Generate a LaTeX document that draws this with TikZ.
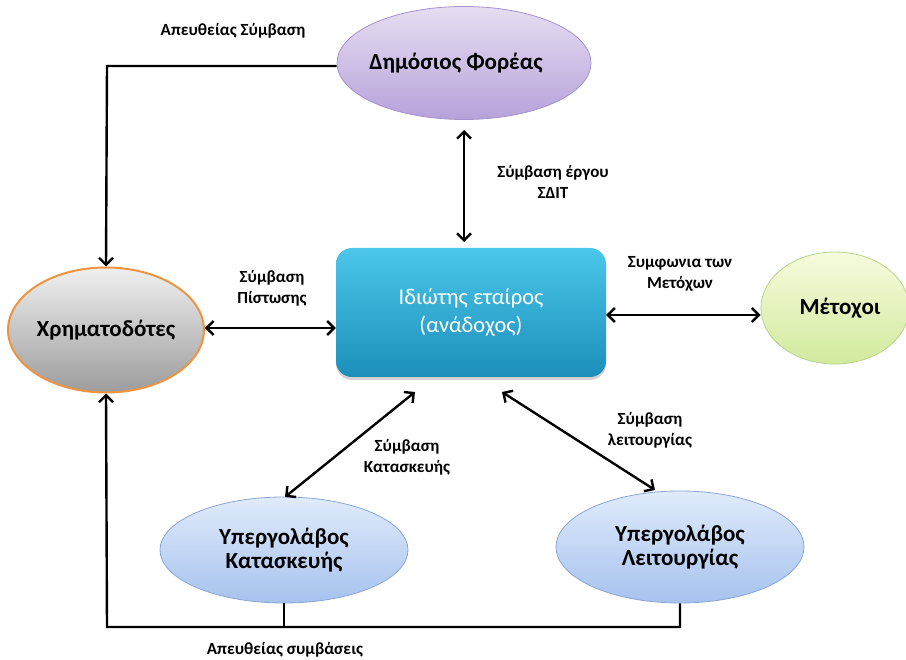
\documentclass[tikz,border=0pt]{standalone}
\usepackage{fontspec}
\setmainfont{Carlito}
\usetikzlibrary{arrows.meta,shapes.geometric,shadows}

\definecolor{pubtop}{HTML}{E6DEF2}
\definecolor{pubbot}{HTML}{B6A2DA}
\definecolor{publine}{HTML}{A693CC}
\definecolor{privtop}{HTML}{4CC6EA}
\definecolor{privbot}{HTML}{1B8FB9}
\definecolor{fintop}{HTML}{F0F0F0}
\definecolor{finbot}{HTML}{9C9C9C}
\definecolor{finline}{HTML}{EE9440}
\definecolor{shtop}{HTML}{F6FBDC}
\definecolor{shbot}{HTML}{D2EA9E}
\definecolor{shline}{HTML}{B9D38C}
\definecolor{subtop}{HTML}{E0EBFB}
\definecolor{subbot}{HTML}{A6C2EE}
\definecolor{subline}{HTML}{8BA6D2}

\tikzset{
  party/.style={ellipse, inner sep=0pt, line width=0.8pt, align=center,
    font=\bfseries\fontsize{23}{24}\selectfont, text=black},
  contract/.style={font=\bfseries\fontsize{17}{21}\selectfont, align=center, inner sep=0pt},
  link/.style={draw=black, line width=2.4pt},
  barb/.tip={Straight Barb[length=7pt,width=14pt]},
  both/.style={link, barb-barb},
  single/.style={link, -barb},
}

\begin{document}
\begin{tikzpicture}[x=1pt,y=-1pt]
\useasboundingbox (0,0) rectangle (906,660);

% parties
\node[party, draw=publine, top color=pubtop, bottom color=pubbot,
      minimum width=254pt, minimum height=113pt] (pub) at (464,63)
      {\hspace*{-16pt}Δημόσιος Φορέας};
\node[rounded corners=16pt, inner sep=0pt, minimum width=270pt, minimum height=129pt,
      top color=privtop, bottom color=privbot,
      drop shadow={shadow xshift=0pt, shadow yshift=-3pt, opacity=0.35},
      text=white, align=center, font=\fontsize{22.5}{28}\selectfont] (priv) at (471,312.5)
      {Ιδιώτης εταίρος\\(ανάδοχος)};
\node[party, draw=finline, line width=2pt, top color=fintop, bottom color=finbot,
      minimum width=193pt, minimum height=125pt] (fin) at (106,330) {Χρηματοδότες};
\node[party, draw=shline, top color=shtop, bottom color=shbot,
      minimum width=148pt, minimum height=112pt] (sh) at (835,308)
      {\hspace*{10pt}Μέτοχοι};
\node[party, draw=subline, top color=subtop, bottom color=subbot,
      minimum width=248pt, minimum height=106pt] (con) at (284,550) {Υπεργολάβος\\Κατασκευής};
\node[party, draw=subline, top color=subtop, bottom color=subbot,
      minimum width=248pt, minimum height=112pt] (op) at (680,547) {Υπεργολάβος\\Λειτουργίας};

% connector end points
\coordinate (pubS) at (464,130);
\coordinate (privN) at (464,242);
\coordinate (privSW) at (415,392);
\coordinate (conN) at (285,497);
\coordinate (privSE) at (502,392);
\coordinate (opN) at (655,490);
\coordinate (topleft) at (107,66);
\coordinate (botleft) at (107,627);
\coordinate (conJ) at (284,627);
\coordinate (opJ) at (680,627);

% contracts
\draw[both] (pubS) -- (privN);
\draw[both] (fin.east |- 0,328) -- (priv.west |- 0,328);
\draw[both] (priv.east |- 0,315) -- (sh.west |- 0,315);
\draw[both] (privSW) -- (conN);
\draw[both] (privSE) -- (opN);
\draw[single] (pub.west |- topleft) -- (topleft) -- (fin.north);
\draw[link] (con.south) -- (conJ);
\draw[single] (op.south) -- (opJ) -- (botleft) -- (fin.south);

% contract labels
\node[contract] (lDirect) at (233,31) {Απευθείας Σύμβαση};
\node[contract] (lPPP) at (553,182) {Σύμβαση έργου\\ΣΔΙΤ};
\node[contract] (lCredit) at (272,288) {Σύμβαση\\Πίστωσης};
\node[contract] (lShare) at (680,274) {Συμφωνια των\\Μετόχων};
\node[contract] (lBuild) at (407,457) {Σύμβαση\\Κατασκευής};
\node[contract] (lOper) at (650,430) {Σύμβαση\\λειτουργίας};
\node[contract] (lDirects) at (285,650) {Απευθείας συμβάσεις};
\end{tikzpicture}
\end{document}
